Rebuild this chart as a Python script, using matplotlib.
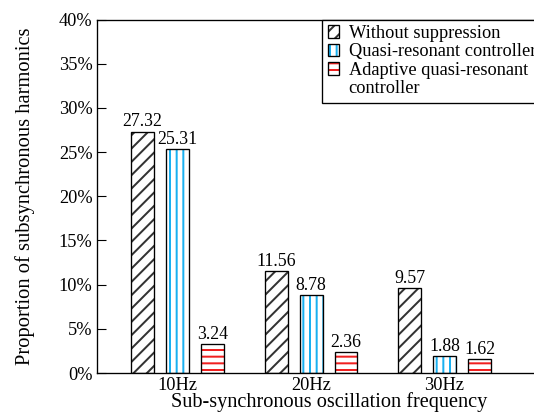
import numpy as np
import matplotlib
matplotlib.use("Agg")
import matplotlib.pyplot as plt
from matplotlib.patches import Patch
from matplotlib.legend_handler import HandlerTuple
from matplotlib.ticker import FuncFormatter

# datos de la figura
frecuencias = ["10Hz", "20Hz", "30Hz"]
sin_supresion = [27.32, 11.56, 9.57]
cuasi_resonante = [25.31, 8.78, 1.88]
cuasi_adaptativo = [3.24, 2.36, 1.62]
etiquetas = ["Without suppression", "Quasi-resonant controller",
             "Adaptive quasi-resonant", "controller"]

plt.rcParams["font.family"] = ["Liberation Serif", "DejaVu Serif"]
plt.rcParams["font.size"] = 16.5
plt.rcParams["hatch.linewidth"] = 1.8

DPI = 80
fig = plt.figure(figsize=(534 / DPI, 412 / DPI), dpi=DPI)
ax = fig.add_axes([97 / 534, 39 / 412, 1.05 - 97 / 534, (373 - 19.5) / 412])

x = np.arange(len(frecuencias))
ancho = 0.172
desp = 0.262

# cada serie: (valores, color del rayado, patron)
series = [
    (sin_supresion, "#333333", "//"),
    (cuasi_resonante, "#1ab0f0", "||"),
    (cuasi_adaptativo, "#f02020", "--"),
]

manejadores = []
for i, (vals, color, patron) in enumerate(series):
    pos = x + (i - 1) * desp
    # rayado en color, luego el borde negro encima
    ax.bar(pos, vals, ancho, color="white", edgecolor=color, hatch=patron,
           linewidth=0, zorder=2)
    barras = ax.bar(pos, vals, ancho, fill=False, edgecolor="black",
                    linewidth=1.2, zorder=3)
    ax.bar_label(barras, labels=[f"{v:.2f}" for v in vals], padding=1,
                 fontsize=16)
    p1 = Patch(facecolor="white", edgecolor=color, hatch=patron, linewidth=0)
    p2 = Patch(fill=False, edgecolor="black", linewidth=1.2)
    manejadores.append((p1, p2))
# segunda linea de la ultima entrada, sin simbolo
manejadores.append(Patch(visible=False))

ax.set_ylim(0, 40)
ax.set_xlim(-0.603, 2.87)
ax.set_yticks(np.arange(0, 41, 5))
ax.yaxis.set_major_formatter(FuncFormatter(lambda v, _: f"{v:.0f}%"))
ax.set_xticks(x)
ax.set_xticklabels(frecuencias)
ax.tick_params(axis="y", direction="in", length=8, width=1, pad=4)
ax.tick_params(axis="x", length=0, pad=4)
for s in ax.spines.values():
    s.set_linewidth(1.2)

ax.set_xlabel("Sub-synchronous oscillation frequency", fontsize=18.2,
              labelpad=-2)
ax.set_ylabel("Proportion of subsynchronous harmonics", fontsize=18.5,
              labelpad=21)

leg = ax.legend(manejadores, etiquetas,
                handler_map={tuple: HandlerTuple(ndivide=1, pad=0)},
                loc="upper left", bbox_to_anchor=(322 / 534, 1 - 19.5 / 412),
                bbox_transform=fig.transFigure, borderaxespad=0,
                frameon=True, fancybox=False, edgecolor="black",
                framealpha=1, handlelength=0.65, handleheight=0.65,
                handletextpad=0.5, labelspacing=0.08, borderpad=0.3,
                fontsize=16.5)
leg.get_frame().set_linewidth(1.2)

fig.savefig("out.png", dpi=DPI)
